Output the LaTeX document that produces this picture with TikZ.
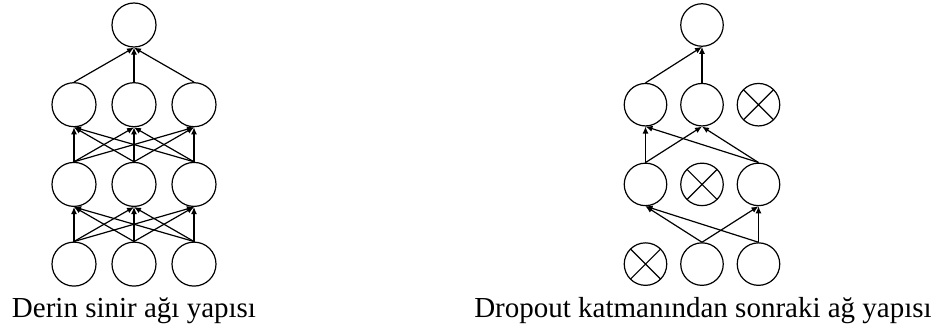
\documentclass[tikz,border=0pt]{standalone}
\usepackage{fontspec}
\setmainfont{Liberation Serif}
\usetikzlibrary{arrows.meta}

\begin{document}
\begin{tikzpicture}[x=1pt,y=-1pt,line width=1.2pt,
    noron/.style={circle,draw,minimum size=44pt,inner sep=0pt},
    kucuk/.style={noron,minimum size=42.5pt},
    sonuk/.style={kucuk,path picture={
        \draw[line width=1.2pt] (path picture bounding box.north west) -- (path picture bounding box.south east)
            (path picture bounding box.north east) -- (path picture bounding box.south west);}},
    ok/.style={-{Latex[length=7pt,width=6pt]}},
    yazi/.style={anchor=base,font=\fontsize{29}{34}\selectfont}]
    \useasboundingbox (0,0) rectangle (940,329);

    % Derin sinir agi
    \node[noron] (a0) at (134,25) {};
    \foreach \k in {1,2,3}
      \foreach \i/\x in {1/74,2/134,3/194}
        \node[noron] (a\k\i) at (\x,{25+79.7*\k}) {};

    \foreach \i in {1,2,3}
      \draw[ok] (a1\i.north) -- (a0.south);
    \foreach \k/\u in {2/1,3/2}
      \foreach \i in {1,2,3}
        \foreach \j in {1,2,3}
          \draw[ok] (a\k\i.north) -- (a\u\j.south);

    % Dropout sonrasi
    \node[kucuk] (b0) at (702,25) {};
    \node[kucuk] (b11) at (645.5,104.7) {};
    \node[kucuk] (b12) at (702,104.7) {};
    \node[sonuk] (b13) at (758.5,104.7) {};
    \node[kucuk] (b21) at (645.5,184.4) {};
    \node[sonuk] (b22) at (702,184.4) {};
    \node[kucuk] (b23) at (758.5,184.4) {};
    \node[sonuk] (b31) at (645.5,264.1) {};
    \node[kucuk] (b32) at (702,264.1) {};
    \node[kucuk] (b33) at (758.5,264.1) {};

    \draw[ok] (b11.north) -- (b0.south);
    \draw[ok] (b12.north) -- (b0.south);
    \foreach \i in {1,3}
      \foreach \j in {1,2}
        \draw[ok] (b2\i.north) -- (b1\j.south);
    \foreach \i in {2,3}
      \foreach \j in {1,3}
        \draw[ok] (b3\i.north) -- (b2\j.south);

    % Alt yazilar
    \node[yazi] (baslik1) at (134,317) {Derin sinir ağı yapısı};
    \node[yazi] (baslik2) at (703,317) {Dropout katmanından sonraki ağ yapısı};
\end{tikzpicture}
\end{document}
